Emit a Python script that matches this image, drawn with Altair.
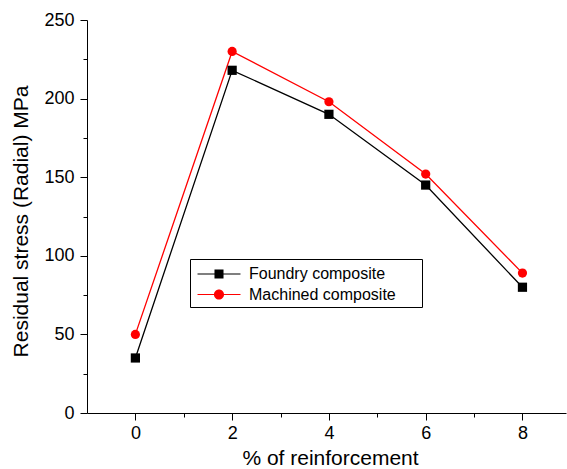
import altair as alt
import pandas as pd

# ---- data ----
reinforcement = [0, 2, 4, 6, 8]
foundry = [35, 218, 190, 145, 80]
machined = [50, 230, 198, 152, 89]
series_names = ["Foundry composite", "Machined composite"]
series_colors = ["#000000", "#ff0000"]
x_tick_values = [0, 1, 2, 3, 4, 5, 6, 7, 8]
y_tick_values = [0, 25, 50, 75, 100, 125, 150, 175, 200, 225, 250]

df = pd.DataFrame({
    "x": reinforcement + reinforcement,
    "y": foundry + machined,
    "series": [series_names[0]] * len(foundry) + [series_names[1]] * len(machined),
})

FONT = "Liberation Sans"

x_axis = alt.Axis(
    values=x_tick_values,
    labelExpr="datum.value % 2 === 0 ? datum.label : ''",
    tickSize={"condition": {"test": "datum.value % 2 === 0", "value": 7}, "value": 4},
    grid=False, domainColor="black", tickColor="black", domainWidth=1, tickWidth=1,
    labelFont=FONT, labelFontSize=18, labelColor="black", labelPadding=4,
    title="% of reinforcement", titleFont=FONT, titleFontSize=21, titleFontWeight="normal",
    titleColor="black", titleX=243, titleY=51, titleBaseline="alphabetic",
)
y_axis = alt.Axis(
    values=y_tick_values,
    labelExpr="datum.value % 50 === 0 ? datum.label : ''",
    tickSize={"condition": {"test": "datum.value % 50 === 0", "value": 7}, "value": 4},
    grid=False, domainColor="black", tickColor="black", domainWidth=1, tickWidth=1,
    labelFont=FONT, labelFontSize=18, labelColor="black", labelPadding=6,
    title="Residual stress (Radial) MPa", titleFont=FONT, titleFontSize=21,
    titleFontWeight="normal", titleColor="black", titleX=-60, titleY=201,
    titleBaseline="alphabetic",
)

x_enc = alt.X("x:Q", scale=alt.Scale(domain=[-1, 8.9], nice=False, zero=False), axis=x_axis)
y_enc = alt.Y("y:Q", scale=alt.Scale(domain=[0, 250], nice=False), axis=y_axis)
color_scale = alt.Scale(domain=series_names, range=series_colors)

legend_shapes = [
    "M-2,-0.05H2V0.05H-2Z M-0.42,-0.42H0.42V0.42H-0.42Z",
    "M-2,-0.05H2V0.05H-2Z M-0.47,0A0.47,0.47 0 1,1 0.47,0A0.47,0.47 0 1,1 -0.47,0Z",
]

legend = alt.Legend(
    title=None, orient="none", legendX=103, legendY=239, direction="vertical",
    strokeColor="black", fillColor="white", padding=4, rowPadding=1.5,
    labelFont=FONT, labelFontSize=16, labelColor="black", labelLimit=400,
    labelExpr="datum.label + '\u00a0\u00a0\u00a0\u00a0\u00a0\u200b'",
    symbolSize=462, symbolStrokeWidth=0, symbolOpacity=1, symbolOffset=14, labelOffset=19,
)

base = alt.Chart(df)

lines = base.mark_line(strokeWidth=1.3).encode(
    x=x_enc, y=y_enc,
    color=alt.Color("series:N", scale=color_scale, legend=None),
)
points = base.mark_point(filled=True, opacity=1, size=85).encode(
    x=x_enc, y=y_enc,
    color=alt.Color("series:N", scale=color_scale, legend=None),
    shape=alt.Shape("series:N", scale=alt.Scale(domain=series_names, range=["square", "circle"]), legend=None),
)
legend_layer = base.mark_point(filled=True, opacity=0).encode(
    x=x_enc, y=y_enc,
    color=alt.Color("series:N", scale=color_scale, legend=legend),
    shape=alt.Shape("series:N", scale=alt.Scale(domain=series_names, range=legend_shapes), legend=legend),
)

chart = alt.layer(lines, points, legend_layer).resolve_scale(
    shape="independent", color="independent"
).properties(
    width=479, height=393,
    autosize=alt.AutoSizeParams(type="none"),
    padding={"left": 87, "top": 20, "right": 1, "bottom": 56},
    background="white",
).configure_view(stroke=None)

chart.save("out.html", embed_options={"renderer": "svg", "actions": False})
